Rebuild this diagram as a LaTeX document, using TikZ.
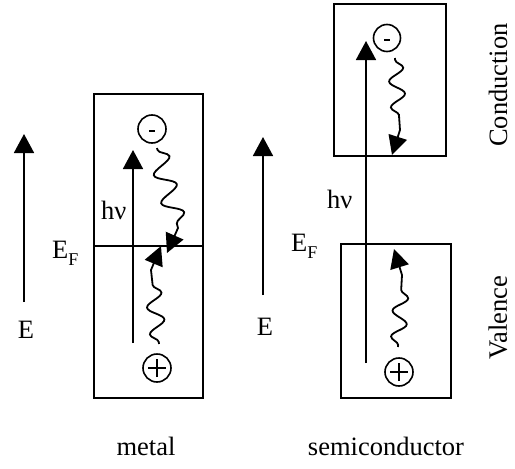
\documentclass[tikz,border=0pt]{standalone}
\usepackage{fontspec}
\setmainfont{Liberation Serif}
\usetikzlibrary{arrows.meta,decorations.pathmorphing}
\begin{document}
\begin{tikzpicture}[x=1pt,y=-1pt,
  band/.style={draw,line width=1.8pt},
  photon/.style={line width=1.8pt,-{Triangle[length=19pt,width=20pt]}},
  axis/.style={line width=1.8pt,-{Triangle[length=19pt,width=20pt]}},
  wave/.style={line width=1.8pt,-{Triangle[length=19pt,width=19pt]},
    decoration={snake,segment length=29pt,amplitude=10pt,pre length=2pt,post length=2pt}},
  charge/.style={draw,circle,line width=1.6pt,minimum size=28pt,inner sep=0pt},
  lbl/.style={font=\fontsize{26.5}{30}\selectfont,inner sep=0pt}]
\useasboundingbox (0,0) rectangle (515,469);
% ---------- metal ----------
\node[band,minimum width=109pt,minimum height=304pt,inner sep=0pt,anchor=north west] (mbox) at (93,93) {};
\coordinate (efl) at (93,246);
\coordinate (efr) at (202,246);
\draw[line width=1.8pt] (efl) -- (efr);
\coordinate (mpb) at (133,343);
\coordinate (mpt) at (133,150);
\draw[photon] (mpb) -- (mpt);
\node[charge] (mminus) at (152,129) {};
\draw[line width=1.8pt] ([xshift=-3pt,yshift=-2pt]mminus.center) -- ([xshift=3pt,yshift=-2pt]mminus.center);
\node[charge] (mplus) at (157,368) {};
\draw[line width=1.2pt] ([xshift=-9pt]mplus.center) -- ([xshift=9pt]mplus.center)
  ([yshift=-9pt]mplus.center) -- ([yshift=9pt]mplus.center);
\coordinate (mw1s) at (157,148);
\coordinate (mw1m) at (178,228);
\coordinate (mw1e) at (167,253);
\draw[wave] decorate{(mw1s) -- (mw1m)} -- (mw1e);
\coordinate (mw2s) at (159,344);
\coordinate (mw2m) at (151,270);
\coordinate (mw2e) at (161,246);
\draw[wave,decoration={amplitude=8pt,segment length=27pt}] decorate{(mw2s) -- (mw2m)} -- (mw2e);
\node[lbl,anchor=base west] (mhv) at (101,219) {hν};
% ---------- left axis ----------
\coordinate (a1b) at (24,302);
\coordinate (a1t) at (24,134);
\draw[axis] (a1b) -- (a1t);
\node[lbl] (a1e) at (26,330) {E};
\node[lbl,anchor=base west] (a1f) at (52,258) {E\raisebox{-0.28em}{\fontsize{18}{20}\selectfont F}};
% ---------- middle axis ----------
\coordinate (a2b) at (263,295);
\coordinate (a2t) at (263,137);
\draw[axis] (a2b) -- (a2t);
\node[lbl] (a2e) at (265,327) {E};
\node[lbl,anchor=base west] (a2f) at (291,251) {E\raisebox{-0.28em}{\fontsize{18}{20}\selectfont F}};
% ---------- semiconductor ----------
\node[band,minimum width=112pt,minimum height=152pt,inner sep=0pt,anchor=north west] (cbox) at (333,3) {};
\node[band,minimum width=110pt,minimum height=154pt,inner sep=0pt,anchor=north west] (vbox) at (340,243) {};
\coordinate (spb) at (366,363);
\coordinate (spt) at (366,41);
\draw[photon] (spb) -- (spt);
\node[charge,minimum size=27pt] (sminus) at (387,38) {};
\draw[line width=1.8pt] ([xshift=-3pt,yshift=-2pt]sminus.center) -- ([xshift=3pt,yshift=-2pt]sminus.center);
\node[charge] (splus) at (399,372) {};
\draw[line width=1.2pt] ([xshift=-9pt]splus.center) -- ([xshift=9pt]splus.center)
  ([yshift=-9pt]splus.center) -- ([yshift=9pt]splus.center);
\coordinate (sw1s) at (395,58);
\coordinate (sw1m) at (400,130);
\coordinate (sw1e) at (392,155);
\draw[wave,decoration={amplitude=7.5pt,segment length=26pt}] decorate{(sw1s) -- (sw1m)} -- (sw1e);
\coordinate (sw2s) at (398,347);
\coordinate (sw2m) at (402,275);
\coordinate (sw2e) at (394,249);
\draw[wave,decoration={amplitude=7.5pt,segment length=26pt}] decorate{(sw2s) -- (sw2m)} -- (sw2e);
\node[lbl,anchor=base west] (shv) at (327,208) {hν};
% ---------- labels ----------
\node[lbl,rotate=90] (cond) at (498,85) {Conduction};
\node[lbl,rotate=90] (val) at (498,318) {Valence};
\node[lbl,anchor=base] (metal) at (146,455) {metal};
\node[lbl,anchor=base] (semi) at (386,455) {semiconductor};
\end{tikzpicture}
\end{document}
